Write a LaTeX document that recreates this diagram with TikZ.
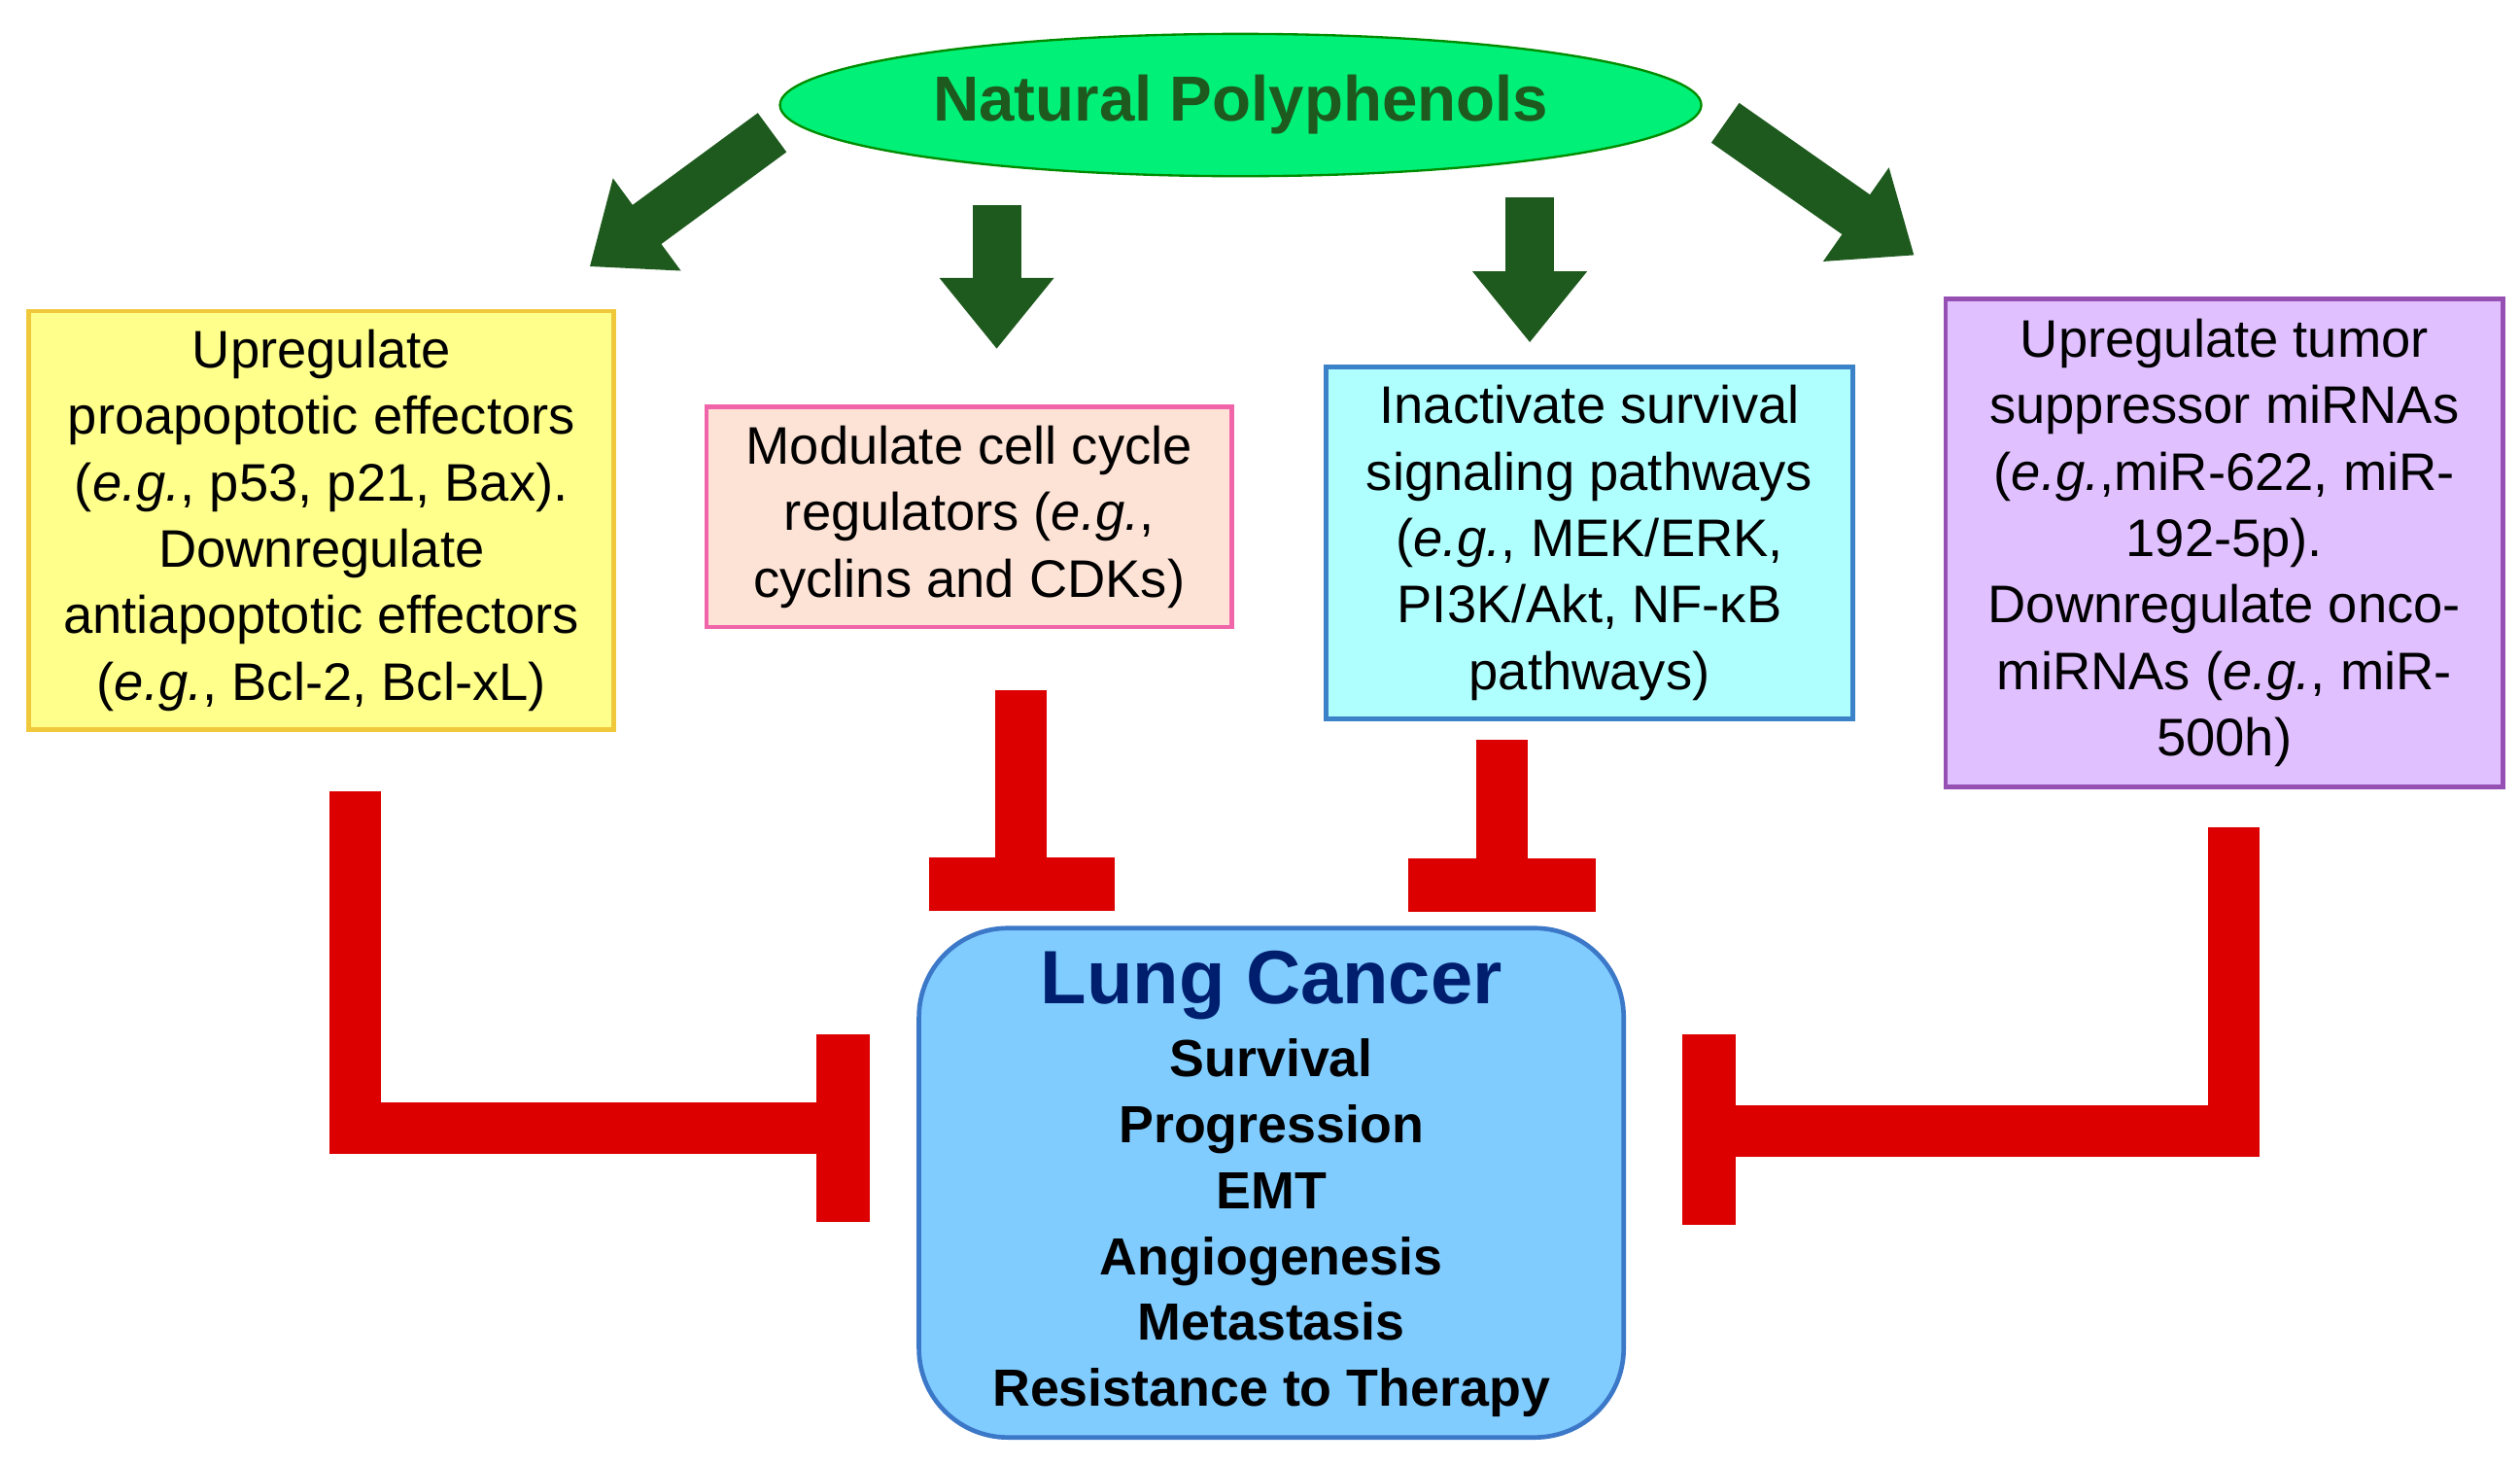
\documentclass[tikz,border=0pt]{standalone}
\usepackage{fontspec}
\setmainfont{Liberation Sans}
\usetikzlibrary{shapes.geometric,arrows.meta}
\definecolor{darkgr}{HTML}{1E5A1E}
\definecolor{inhred}{HTML}{DD0000}
\tikzset{
  box/.style={draw, line width=0.8pt, align=center, inner sep=0pt,
    font=\fontsize{9.3}{11.7}\selectfont},
  grarrow/.style={darkgr, line width=0.3cm, -{Triangle[width=0.68cm,length=0.44cm]}},
  inh/.style={inhred, line width=0.32cm},
  bar/.style={inhred, line width=0.33cm},
}
\begin{document}
\begin{tikzpicture}[x=0.01cm,y=-0.01cm]
  \useasboundingbox (0,0) rectangle (1560,906);

  % Source ellipse
  \node[ellipse, draw=green!55!black, fill={rgb,255:red,0;green,240;blue,120},
        minimum width=5.7cm, minimum height=0.88cm, inner sep=0pt,
        text=darkgr, font=\fontsize{11.2}{13}\selectfont\bfseries]
        (np) at (768,65) {Natural Polyphenols};

  % Effect boxes
  \node[box, fill={rgb,255:red,255;green,255;blue,140}, draw={rgb,255:red,240;green,200;blue,60},
        minimum width=3.62cm, minimum height=2.59cm] (apo) at (199,322)
    {Upregulate\\proapoptotic effectors\\(\textit{e.g.}, p53, p21, Bax).\\Downregulate\\antiapoptotic effectors\\(\textit{e.g.}, Bcl-2, Bcl-xL)};
  \node[box, fill={rgb,255:red,253;green,227;blue,214}, draw={rgb,255:red,240;green,100;blue,170},
        minimum width=3.25cm, minimum height=1.36cm] (cyc) at (600,320)
    {Modulate cell cycle\\regulators (\textit{e.g.},\\cyclins and CDKs)};
  \node[box, fill={rgb,255:red,176;green,255;blue,255}, draw={rgb,255:red,60;green,130;blue,200},
        minimum width=3.26cm, minimum height=2.18cm] (sig) at (984,336)
    {Inactivate survival\\signaling pathways\\(\textit{e.g.}, MEK/ERK,\\PI3K/Akt, NF-κB\\pathways)};
  \node[box, fill={rgb,255:red,224;green,192;blue,255}, draw={rgb,255:red,150;green,80;blue,180},
        minimum width=3.45cm, minimum height=3.02cm] (mir) at (1377,336)
    {Upregulate tumor\\suppressor miRNAs\\(\textit{e.g.},miR-622, miR-\\192-5p).\\Downregulate onco-\\miRNAs (\textit{e.g.}, miR-\\500h)};

  % Target
  \node[draw={rgb,255:red,60;green,120;blue,200}, line width=0.8pt, rounded corners=0.55cm,
        fill={rgb,255:red,128;green,204;blue,255},
        minimum width=4.36cm, minimum height=3.15cm] (lc) at (787,732) {};
  \node[text={rgb,255:red,0;green,30;blue,110}, font=\fontsize{13.3}{15}\selectfont\bfseries]
        (lct) at (787,610) {Lung Cancer};
  \node[align=center, font=\fontsize{9.2}{11.6}\selectfont\bfseries] (lcl) at (787,760)
    {Survival\\Progression\\EMT\\Angiogenesis\\Metastasis\\Resistance to Therapy};

  % Green arrows
  \coordinate (g1s) at (478,82);   \coordinate (g1e) at (365,165);
  \coordinate (g2s) at (617,127);  \coordinate (g2e) at (617,216);
  \coordinate (g3s) at (947,122);  \coordinate (g3e) at (947,212);
  \coordinate (g4s) at (1068,76);  \coordinate (g4e) at (1185,158);
  \draw[grarrow] (g1s) -- (g1e);
  \draw[grarrow] (g2s) -- (g2e);
  \draw[grarrow] (g3s) -- (g3e);
  \draw[grarrow] (g4s) -- (g4e);

  % Inhibition connectors
  \draw[inh] (220,490) -- (220,698) -- (522,698);
  \draw[bar] (522,640) -- (522,756);
  \draw[inh] (632,427) -- (632,547);
  \draw[bar] (575,547) -- (690,547);
  \draw[inh] (930,458) -- (930,548);
  \draw[bar] (872,548) -- (988,548);
  \draw[inh] (1383,512) -- (1383,700) -- (1058,700);
  \draw[bar] (1058,640) -- (1058,758);
\end{tikzpicture}
\end{document}
